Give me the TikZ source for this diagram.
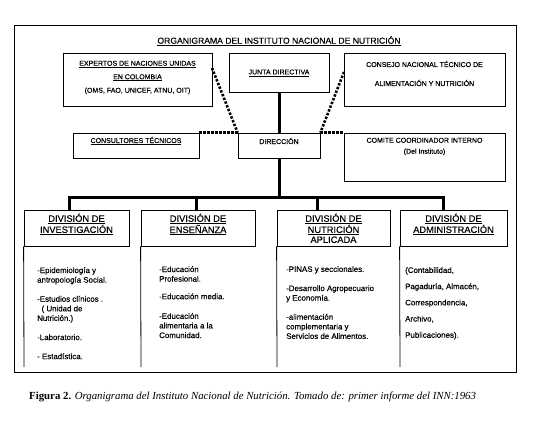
\documentclass[tikz,border=0pt]{standalone}
\usepackage{fontspec}
\setmainfont{Liberation Sans}[FakeBold=0.35]
\newfontfamily\capfont{Liberation Serif}
\usetikzlibrary{calc}
\begin{document}
\begin{tikzpicture}[x=1pt,y=-1pt,
  box/.style={draw,line width=0.8pt,inner sep=0pt},
  solidlink/.style={line width=3pt,line join=miter},
  dotlink/.style={line width=2.6pt,dash pattern=on 2.4pt off 1.6pt},
  txt/.style={inner sep=0pt,align=center,font=\fontsize{7}{13.5}\selectfont},
  hdr/.style={inner sep=0pt,align=center,anchor=north,font=\fontsize{9.3}{10}\selectfont},
  body/.style={inner sep=0pt,align=left,anchor=north west,font=\fontsize{7.9}{9.6}\selectfont},
  lowline/.style={line width=0.8pt}
]
\useasboundingbox (0,0) rectangle (546,422);
\fill[white] (0,0) rectangle (546,422);
\draw[line width=0.9pt] (14,25) rectangle (516,372);

\node[inner sep=0pt,font=\fontsize{8.6}{10}\selectfont] (title) at (279,41) {\underline{ORGANIGRAMA DEL INSTITUTO NACIONAL DE NUTRICIÓN}};

% top row
\node[box,minimum width=149pt,minimum height=53pt] (exp) at (137.5,79.5) {};
\node[txt] (expt) at (137.5,77.5) {\underline{EXPERTOS DE NACIONES UNIDAS}\\\underline{EN COLOMBIA}\\(OMS, FAO, UNICEF, ATNU, OIT)};
\node[box,minimum width=100pt,minimum height=39pt] (junta) at (279,72.5) {};
\node[txt] (juntat) at (279,73) {\underline{JUNTA DIRECTIVA}};
\node[box,minimum width=161pt,minimum height=53pt] (cons) at (424.5,79.5) {};
\node[txt,font=\fontsize{7}{19}\selectfont] (const) at (424.5,73.5) {CONSEJO NACIONAL TÉCNICO DE\\ALIMENTACIÓN Y NUTRICIÓN};

% middle row
\node[box,minimum width=126pt,minimum height=25pt] (consu) at (136,145.5) {};
\node[txt] (consut) at (136,141) {\underline{CONSULTORES TÉCNICOS}};
\node[box,minimum width=82pt,minimum height=25pt] (dir) at (279,145.5) {};
\node[txt] (dirt) at (279,141) {DIRECCIÓN};
\node[box,minimum width=161pt,minimum height=48pt] (com) at (424.5,157) {};
\node[txt,font=\fontsize{7}{11}\selectfont] (comt) at (424.5,146.5) {COMITE COORDINADOR INTERNO\\(Del Instituto)};

% connectors
\draw[solidlink] (junta.south) -- (dir.north);
\coordinate (e1) at (212,68);
\coordinate (c1) at (344,72);
\draw[dotlink] (e1) -- (dir.north west);
\draw[dotlink] (c1) -- (dir.north east);
\draw[dotlink] (consu.north east) -- (dir.north west);
\draw[dotlink] (dir.north east) -- (com.north west);

% divisions
\node[box,minimum width=105pt,minimum height=36pt] (d1) at (76.5,228) {};
\node[box,minimum width=114pt,minimum height=36pt] (d2) at (198,228) {};
\node[box,minimum width=113pt,minimum height=36pt] (d3) at (333.5,228) {};
\node[box,minimum width=107pt,minimum height=36pt] (d4) at (453.5,228) {};

\coordinate (b1) at (69,198);
\coordinate (b2) at (196,198);
\coordinate (b3) at (317,198);
\coordinate (b4) at (443,198);
\draw[solidlink] (dir.south) -- (dir.south |- b1);
\draw[solidlink] (b1 |- d1.north) -- (b1) -- (b4) -- (b4 |- d4.north);
\draw[solidlink] (b2) -- (b2 |- d2.north);
\draw[solidlink] (b3) -- (b3 |- d3.north);

\coordinate (l1) at (24,367);
\coordinate (l2) at (141,367);
\coordinate (l3) at (277,367);
\coordinate (l4) at (400,367);
\draw[lowline] (d1.south west) -- (l1);
\draw[lowline] (d2.south west) -- (l2);
\draw[lowline] (d3.south west) -- (l3);
\draw[lowline] (d4.south west) -- (l4);

\node[hdr] (h1) at (76.5,213.5) {\underline{DIVISIÓN DE}\\\underline{INVESTIGACIÓN}};
\node[hdr] (h2) at (198,213.5) {\underline{DIVISIÓN DE}\\\underline{ENSEÑANZA}};
\node[hdr] (h3) at (333.5,213.5) {\underline{DIVISIÓN DE}\\\underline{NUTRICIÓN}\\APLICADA};
\node[hdr] (h4) at (453.5,213.5) {\underline{DIVISIÓN DE}\\\underline{ADMINISTRACIÓN}};

\node[body] (t1) at (37,267) {-Epidemiología y\\antropología Social.\\[9.5pt]-Estudios clínicos .\\\ \ ( Unidad de\\Nutrición.)\\[9.5pt]-Laboratorio.\\[9.5pt]- Estadística.};
\node[body] (t2) at (159,266) {-Educación\\Profesional.\\[8pt]-Educación media.\\[10pt]-Educación\\alimentaria a la\\Comunidad.};
\node[body] (t3) at (286,266) {-PINAS y seccionales.\\[9.5pt]-Desarrollo Agropecuario\\y Economía.\\[9.5pt]-alimentación\\complementaria y\\Servicios de Alimentos.};
\node[body,font=\fontsize{7.9}{16.2}\selectfont] (t4) at (405,267) {(Contabilidad,\\Pagaduría, Almacén,\\Correspondencia,\\Archivo,\\Publicaciones).};

\node[inner sep=0pt,anchor=west,font=\capfont\fontsize{10.8}{12}\selectfont] (cap) at (29,397) {\textbf{Figura 2.} \textit{Organigrama del Instituto Nacional de Nutrición. Tomado de: primer informe del INN:1963}};
\end{tikzpicture}
\end{document}
